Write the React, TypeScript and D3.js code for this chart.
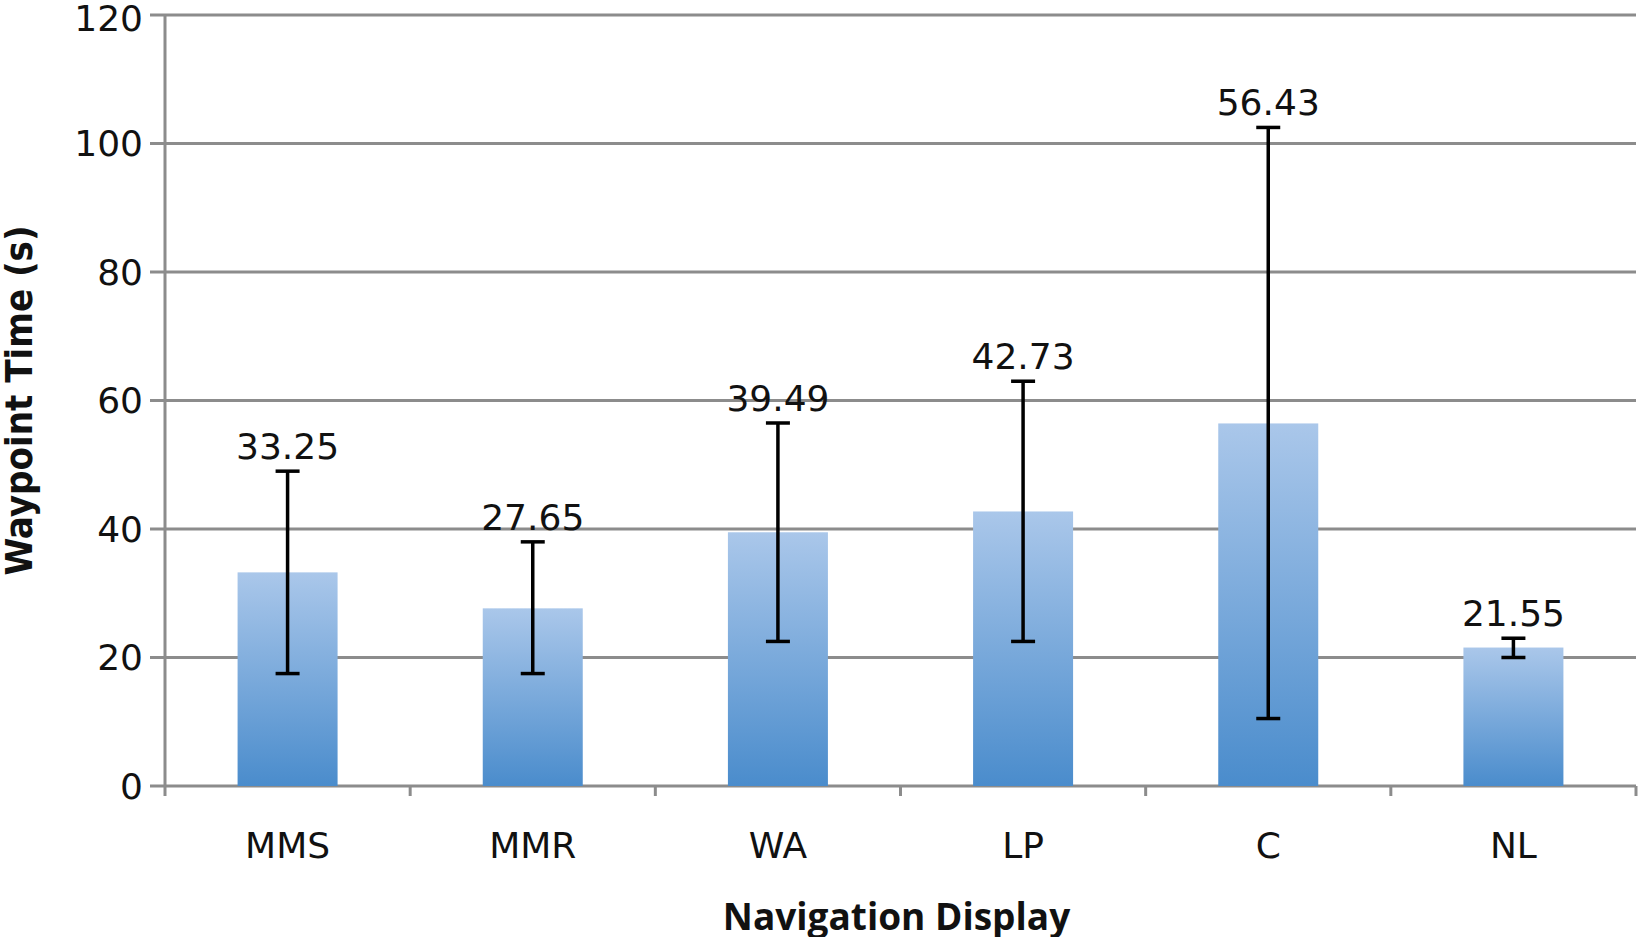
import React from "react";
import * as d3 from "d3";

const categories = ["MMS", "MMR", "WA", "LP", "C", "NL"];
const means = [33.25, 27.65, 39.49, 42.73, 56.43, 21.55];
const errLow = [17.5, 17.5, 22.5, 22.5, 10.5, 20];
const errHigh = [49, 38, 56.5, 63, 102.5, 23];
const yTicks = [0, 20, 40, 60, 80, 100, 120];

export default function App() {
  const W = 1639, H = 937;
  const left = 165, right = 1636, top = 15, bottom = 786;
  const x = d3.scaleBand().domain(categories).range([left, right]).paddingInner(0).paddingOuter(0);
  const y = d3.scaleLinear().domain([0, 120]).range([bottom, top]);
  const bw = 100;
  const font = "'DejaVu Sans', sans-serif";
  return (
    <svg width={W} height={H} style={{ position: "absolute", left: 0, top: 0 }}>
      <defs>
        <linearGradient id="g" x1="0" y1="0" x2="0" y2="1">
          <stop offset="0" stopColor="#aac7ea" />
          <stop offset="1" stopColor="#4a8ccc" />
        </linearGradient>
      </defs>
      <rect width={W} height={H} fill="#fff" />
      {yTicks.map((t) => (
        <g key={t}>
          <line x1={left - 15} x2={right} y1={y(t)} y2={y(t)} stroke="#8c8c8c" strokeWidth={3} />
          <text x={left - 22} y={Math.max(y(t), 18)} dy="0.36em" textAnchor="end" fontFamily={font} fontSize={36} fill="#111">{t}</text>
        </g>
      ))}
      <line x1={left} x2={left} y1={top} y2={bottom + 10} stroke="#8c8c8c" strokeWidth={3} />
      {categories.map((c) => (
        <line key={"t" + c} x1={x(c)! + x.bandwidth()} x2={x(c)! + x.bandwidth()} y1={bottom} y2={bottom + 10} stroke="#8c8c8c" strokeWidth={3} />
      ))}
      {categories.map((c, i) => {
        const cx = x(c)! + x.bandwidth() / 2;
        return (
          <g key={c}>
            <rect x={cx - bw / 2} y={y(means[i])} width={bw} height={bottom - y(means[i])} fill="url(#g)" />
            <line x1={cx} x2={cx} y1={y(errLow[i])} y2={y(errHigh[i])} stroke="#000" strokeWidth={3.5} />
            <line x1={cx - 12} x2={cx + 12} y1={y(errLow[i])} y2={y(errLow[i])} stroke="#000" strokeWidth={3.5} />
            <line x1={cx - 12} x2={cx + 12} y1={y(errHigh[i])} y2={y(errHigh[i])} stroke="#000" strokeWidth={3.5} />
            <text x={cx} y={y(errHigh[i]) - 12} textAnchor="middle" fontFamily={font} fontSize={36} fill="#111">{means[i].toFixed(2)}</text>
            <text x={cx} y={858} textAnchor="middle" fontFamily={font} fontSize={36} fill="#111">{c}</text>
          </g>
        );
      })}
      <text x={(left + right) / 2 - 4} y={930} textAnchor="middle" fontFamily="'Open Sans', sans-serif" fontWeight="bold" fontSize={37} fill="#111">Navigation Display</text>
      <text transform={`translate(32, ${(top + bottom) / 2}) rotate(-90)`} textAnchor="middle" fontFamily="'DejaVu Sans Condensed', 'Open Sans', sans-serif" fontStretch="condensed" fontWeight="bold" fontSize={38} fill="#111">Waypoint Time (s)</text>
    </svg>
  );
}
